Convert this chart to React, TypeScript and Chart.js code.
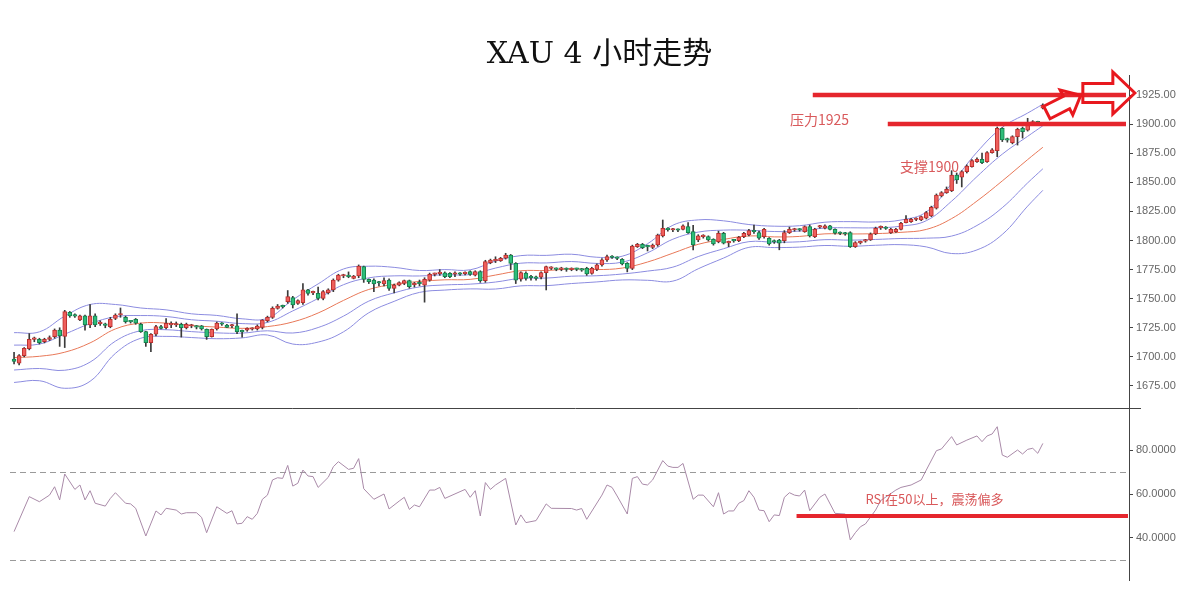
import React, { useEffect, useRef } from 'react';
import { Chart, registerables } from 'chart.js';

Chart.register(...registerables);

const TITLE = 'XAU 4 小时走势';

// candle index 0..203
const OPEN = [
  1698, 1694.5, 1701, 1707, 1715, 1715, 1713, 1715, 1717.4, 1723,
  1717.5, 1738.3, 1736, 1731.7, 1735.2, 1727.4, 1735.2, 1728.5, 1727.5, 1726,
  1733, 1736, 1734, 1730.3, 1732.3, 1728, 1721.7, 1712.3, 1719.4, 1726,
  1725, 1727.5, 1727.4, 1728, 1725, 1726.5, 1726, 1726.6, 1723.7, 1717.4,
  1724, 1728.5, 1727.4, 1726.5, 1726.6, 1721.7, 1723, 1723.7, 1724, 1725.4,
  1731, 1734, 1741.7, 1743.5, 1747.4, 1751, 1746, 1746.6, 1757.5, 1755,
  1754.6, 1750.3, 1755.2, 1757.5, 1766, 1769.5, 1769.5, 1767.5, 1769.5, 1777.5,
  1766.6, 1766, 1763.8, 1762.6, 1766, 1758.9, 1761.7, 1763.2, 1765.5, 1762,
  1763, 1761.7, 1766, 1770.9, 1771.5, 1772.3, 1771.8, 1771, 1771.2, 1771.5,
  1773.2, 1770.3, 1773.2, 1765.5, 1781, 1782.5, 1782.6, 1784.7, 1787.5, 1780.4,
  1766.7, 1772, 1768.4, 1768, 1768.4, 1772.4, 1776.1, 1775.5, 1775.2, 1775.3,
  1775, 1775.4, 1775, 1776.1, 1771.8, 1775.2, 1779, 1783.3, 1785.6, 1784.8,
  1783.8, 1780.4, 1776.1, 1794.7, 1796.7, 1794.8, 1794.1, 1796.1, 1803.9, 1809.6,
  1809, 1809, 1809.6, 1811.9, 1807.6, 1800.4, 1803.3, 1803.3, 1801, 1799,
  1806.2, 1798, 1800, 1799.9, 1803.3, 1804.7, 1807.8, 1806.7, 1803.3, 1801.9,
  1799, 1800.4, 1799.9, 1806.8, 1809, 1809.2, 1807.6, 1811.9, 1803.3, 1811.5,
  1810.5, 1812.5, 1809.6, 1806.2, 1805.8, 1806.8, 1794.7, 1798, 1799.5, 1800.5,
  1805.6, 1810.8, 1810.5, 1806.8, 1807.6, 1809.6, 1815.4, 1816.2, 1818, 1817.6,
  1819.1, 1821.1, 1827.7, 1838.3, 1841.1, 1842.8, 1856.3, 1854.3, 1859.2, 1863.4,
  1867.7, 1869.7, 1867.7, 1875.5, 1877.2, 1896.4, 1886.6, 1884.1, 1889.2, 1896.4,
  1894.9, 1900.7, 1901.4, 1913.6
];
const HIGH = [
  1704, 1702, 1708, 1720, 1717, 1716, 1716, 1718, 1724, 1725,
  1740, 1739, 1737, 1736, 1736, 1745, 1737, 1731, 1729, 1734,
  1737, 1742, 1735, 1731, 1733, 1729, 1722, 1720, 1727, 1727,
  1733, 1730, 1730, 1729, 1729, 1728, 1727, 1727, 1724, 1724,
  1730, 1729.5, 1728, 1728, 1737, 1723, 1725, 1725, 1727.5, 1732,
  1735, 1743, 1745, 1744.5, 1757, 1752, 1749, 1763, 1758, 1756.5,
  1760, 1757, 1758.5, 1767, 1771, 1771, 1773, 1770, 1779, 1778,
  1767, 1767, 1765, 1768, 1767, 1762.5, 1764.5, 1766, 1766, 1764,
  1766, 1768, 1772, 1772, 1775, 1773, 1772.5, 1773, 1772.5, 1773,
  1774, 1774, 1774, 1783, 1784, 1786, 1785.5, 1789, 1788, 1781,
  1773, 1773, 1770, 1769.5, 1773, 1778, 1777.5, 1776.5, 1777, 1776.5,
  1776.5, 1776.3, 1776, 1777, 1777, 1780, 1784.5, 1787.5, 1787, 1786,
  1784.5, 1781, 1796, 1797.5, 1797.5, 1796, 1797, 1805.5, 1817.6, 1811,
  1810.5, 1810, 1813.5, 1815.4, 1813, 1805, 1805, 1804, 1801.5, 1808,
  1807, 1799.5, 1801, 1803.5, 1807, 1809.5, 1813.3, 1808, 1810.5, 1802.5,
  1800.5, 1801, 1808.5, 1811.5, 1810.5, 1810.3, 1812.5, 1813.3, 1810.5, 1813,
  1813.5, 1813, 1810, 1807.5, 1807, 1807.5, 1799, 1799.5, 1801, 1806.5,
  1811.5, 1812.5, 1812, 1810.5, 1810.5, 1815.5, 1821.5, 1819, 1819.5, 1821,
  1825, 1829.5, 1840, 1842, 1846, 1860, 1858, 1860, 1865, 1869.5,
  1871, 1875, 1876.5, 1879, 1897.5, 1897, 1888, 1890, 1896.5, 1897.5,
  1905, 1903, 1902.5, 1917.5
];
const LOW = [
  1694, 1693, 1700, 1706, 1713, 1711, 1712, 1714, 1716, 1709,
  1708, 1734, 1734, 1731, 1723, 1725, 1726, 1727, 1725, 1725,
  1732, 1734, 1729, 1729, 1728, 1721, 1709, 1704.5, 1718, 1724,
  1724, 1725, 1726, 1717, 1724, 1725, 1724, 1723, 1715, 1717,
  1723, 1727, 1725, 1725, 1720, 1717, 1722, 1723, 1723, 1724,
  1730, 1733, 1741, 1742, 1746, 1742, 1745, 1745, 1753, 1753.5,
  1749, 1749, 1754, 1756, 1765, 1768, 1768, 1767, 1768, 1764,
  1763, 1756, 1761, 1761, 1757, 1755, 1761, 1762, 1759, 1760,
  1761, 1747, 1765, 1769.5, 1770, 1768, 1768, 1769, 1770, 1770.5,
  1770, 1769.5, 1764, 1764, 1780, 1781, 1782, 1784, 1775, 1763,
  1765, 1766, 1766, 1766, 1767, 1757.5, 1775, 1774, 1774, 1773.5,
  1774, 1774, 1773.5, 1770, 1771, 1774, 1778, 1782, 1784.5, 1783.5,
  1779, 1773, 1775, 1794, 1793, 1791, 1793, 1795, 1803, 1808,
  1807.5, 1807.5, 1809, 1806, 1792, 1799, 1802, 1799.5, 1796, 1798,
  1797, 1794.7, 1798.5, 1799, 1802.5, 1804, 1806, 1801, 1802, 1796,
  1797.5, 1792, 1798, 1806, 1808, 1808, 1807, 1803, 1802.5, 1810.5,
  1810, 1809, 1805.5, 1805, 1804.5, 1794, 1794, 1797, 1798.5, 1800,
  1805, 1809.5, 1809.5, 1806, 1807, 1809, 1815, 1815.5, 1817, 1817,
  1818.5, 1820.5, 1827, 1837.5, 1840.5, 1842, 1849, 1846, 1858, 1863,
  1867, 1866, 1867, 1875, 1872, 1885, 1884.5, 1883, 1882, 1888,
  1894, 1899.5, 1900, 1913
];
const CLOSE = [
  1696, 1701, 1707.4, 1715, 1715.5, 1712.3, 1715, 1716.5, 1723, 1718,
  1739, 1735.2, 1735, 1735.2, 1727.4, 1735.2, 1727.4, 1729, 1727, 1732.3,
  1736, 1736.5, 1730.3, 1730, 1728.9, 1721.7, 1712.3, 1719.4, 1726, 1724.5,
  1728.9, 1727.6, 1727.8, 1725, 1728, 1726.8, 1725.6, 1724, 1717.4, 1723.7,
  1729, 1728, 1725.4, 1726.6, 1721.7, 1721.5, 1724.5, 1724, 1726.5, 1731.7,
  1734, 1741.7, 1743.7, 1743, 1751.7, 1744.6, 1748.3, 1757.5, 1754.6, 1755.2,
  1750.3, 1756, 1757.5, 1766, 1770.3, 1769.8, 1769, 1769.5, 1778, 1766.6,
  1764.6, 1762.6, 1763.5, 1765.5, 1758.9, 1761.7, 1763.8, 1765.5, 1760.3, 1763,
  1762.8, 1766.6, 1770.9, 1771, 1771.8, 1768.9, 1768.9, 1771.3, 1771, 1771.8,
  1770.9, 1773.2, 1765.5, 1781.8, 1783.2, 1782.8, 1784.7, 1787.5, 1780.4, 1766,
  1772.4, 1767.5, 1768, 1767.5, 1772.4, 1777.5, 1776.5, 1775.2, 1775.5, 1775.1,
  1775.4, 1775.2, 1774.6, 1771.2, 1776.1, 1779, 1783.3, 1786.1, 1785.4, 1784.6,
  1779.8, 1776.1, 1795.3, 1796.7, 1793.9, 1794.5, 1796.1, 1804.7, 1810.5, 1809.4,
  1809.2, 1808.8, 1812.5, 1806.7, 1796.1, 1803.9, 1803.5, 1800.4, 1797, 1806.2,
  1797.6, 1798.3, 1799.7, 1802.7, 1806.2, 1808.5, 1807.5, 1801.9, 1809.6, 1797,
  1798.7, 1797.6, 1806.8, 1809.6, 1809.3, 1809, 1811.9, 1803.9, 1809.6, 1811.9,
  1812.5, 1809.6, 1806.2, 1806, 1805.6, 1794.7, 1798.2, 1798.4, 1800, 1805.6,
  1810.5, 1811, 1810.3, 1809.6, 1809.6, 1814.8, 1818.2, 1818.2, 1818.3, 1820.5,
  1824, 1828.5, 1839.1, 1841.1, 1844, 1856.3, 1852, 1859.2, 1864, 1868.6,
  1869.7, 1866.9, 1875.5, 1877.8, 1896.4, 1886.4, 1886.3, 1889.2, 1895.5, 1893.5,
  1900.7, 1902.1, 1901.2, 1916.4
];

// Bollinger bands read at these candle indices
const BAND_IDX = [0, 5, 10, 15, 20, 25, 30, 35, 40, 45, 50, 55, 60, 65, 70, 75, 80, 85, 90, 95,
  100, 105, 110, 115, 120, 125, 130, 135, 140, 145, 150, 155, 160, 165, 170, 175, 180, 185, 190, 195, 200, 203];
const BB_UP2 = [1720.8, 1721.5, 1735.0, 1745.0, 1745.0, 1742.0, 1740.4, 1737.0, 1735.6, 1732.7, 1733.2, 1749.0, 1762.7, 1775.5, 1777.9, 1776.9, 1774.2, 1775.0, 1774.8, 1782.3,
  1787.0, 1787.2, 1788.2, 1785.6, 1786.5, 1797.2, 1813.1, 1817.7, 1816.9, 1813.7, 1812.3, 1812.7, 1815.7, 1816.2, 1815.9, 1817.6, 1824.5, 1848.8, 1875.9, 1897.2, 1909.5, 1917.1];
const BB_UP1 = [1710.1, 1711.0, 1719.5, 1728.5, 1734.5, 1735.5, 1734.7, 1731.9, 1730.6, 1728.6, 1729.6, 1739.5, 1750.2, 1762.0, 1767.9, 1769.6, 1769.5, 1770.6, 1770.7, 1776.3,
  1780.5, 1780.7, 1781.9, 1780.3, 1781.4, 1789.4, 1801.1, 1807.2, 1808.9, 1808.8, 1807.7, 1808.1, 1810.7, 1810.9, 1810.9, 1812.3, 1817.0, 1833.8, 1854.9, 1874.2, 1889.5, 1898.6];
const BB_MID = [1699.4, 1700.5, 1704.0, 1712.0, 1724.0, 1729.0, 1729.0, 1726.8, 1725.6, 1724.5, 1726.0, 1730.0, 1737.7, 1748.5, 1757.9, 1762.3, 1764.8, 1766.2, 1766.6, 1770.3,
  1774.0, 1774.2, 1775.6, 1775.0, 1776.3, 1781.5, 1789.1, 1796.7, 1800.9, 1803.9, 1803.1, 1803.5, 1805.7, 1805.6, 1805.9, 1807.0, 1809.5, 1818.8, 1833.9, 1851.2, 1869.5, 1880.1];
const BB_LO1 = [1688.7, 1690.0, 1688.5, 1695.5, 1713.5, 1722.5, 1723.3, 1721.7, 1720.6, 1720.4, 1722.4, 1720.5, 1725.2, 1735.0, 1747.9, 1755.0, 1760.1, 1761.8, 1762.5, 1764.3,
  1767.5, 1767.7, 1769.3, 1769.7, 1771.2, 1773.7, 1777.1, 1786.2, 1792.9, 1799.0, 1798.5, 1798.9, 1800.7, 1800.3, 1800.9, 1801.7, 1802.0, 1803.8, 1812.9, 1828.2, 1849.5, 1861.6];
const BB_LO2 = [1678.0, 1679.5, 1673.0, 1679.0, 1703.0, 1716.0, 1717.6, 1716.6, 1715.6, 1716.3, 1718.8, 1711.0, 1712.7, 1721.5, 1737.9, 1747.7, 1755.4, 1757.4, 1758.4, 1758.3,
  1761.0, 1761.2, 1763.0, 1764.4, 1766.1, 1765.8, 1765.1, 1775.7, 1784.9, 1794.1, 1793.9, 1794.3, 1795.7, 1795.0, 1795.9, 1796.4, 1794.5, 1788.8, 1791.9, 1805.2, 1829.5, 1843.1];

// RSI read at these candle indices
const RSI_IDX = [0, 3, 5, 7, 8, 9, 10, 12, 13, 14, 15, 16, 18, 19, 20, 22, 23, 24, 26, 28,
  29, 30, 32, 33, 34, 36, 37, 38, 40, 42, 43, 44, 45, 46, 47, 48, 49, 50, 51, 52,
  53, 54, 55, 56, 57, 58, 59, 60, 62, 63, 64, 66, 67, 68, 69, 71, 73, 74, 76, 77,
  78, 79, 80, 82, 83, 84, 85, 89, 90, 91, 92, 93, 94, 95, 97, 99, 100, 101, 103, 105,
  106, 110, 111, 112, 113, 116, 117, 118, 119, 121, 122, 123, 124, 125, 126, 128, 129, 130, 131, 132,
  134, 135, 136, 138, 139, 140, 141, 142, 143, 144, 145, 146, 147, 148, 149, 150, 151, 152, 153, 154,
  155, 156, 157, 159, 160, 162, 164, 165, 166, 167, 168, 170, 171, 174, 175, 177, 179, 180, 182, 183,
  185, 186, 188, 190, 191, 192, 193, 194, 195, 196, 198, 199, 200, 201, 202, 203];
const RSI_VAL = [42.9, 58.8, 56.5, 59.5, 63.3, 57.3, 69.1, 62.1, 64.1, 57.3, 61.5, 55.8, 54.5, 58.0, 60.6, 55.8, 55.5, 53.5, 40.9, 52.3,
  50.5, 53.5, 52.7, 50.9, 51.5, 51.5, 49.4, 42.4, 54.2, 51.2, 52.4, 46.4, 46.7, 49.7, 48.5, 51.2, 57.6, 59.5, 66.4, 67.4,
  67.1, 73.0, 63.6, 64.9, 70.9, 68.2, 67.9, 63.0, 67.6, 72.4, 74.7, 71.2, 71.7, 76.1, 62.4, 57.6, 60.0, 53.2, 56.8, 58.5,
  53.0, 55.0, 54.2, 61.8, 61.8, 63.0, 58.0, 62.1, 58.5, 61.5, 50.0, 65.2, 62.1, 64.1, 67.1, 45.9, 50.5, 47.0, 47.9, 55.5,
  53.5, 53.4, 52.7, 53.4, 48.5, 59.5, 64.1, 63.0, 59.1, 50.9, 67.1, 67.9, 64.5, 64.1, 66.4, 75.2, 72.7, 72.1, 72.1, 73.9,
  57.6, 59.5, 59.5, 54.2, 60.6, 50.9, 52.3, 52.3, 55.8, 57.0, 61.5, 58.5, 52.7, 52.4, 47.4, 50.5, 50.2, 58.5, 60.6, 59.5,
  59.1, 61.8, 52.4, 58.5, 60.0, 51.2, 50.9, 39.1, 42.4, 45.1, 46.4, 52.7, 57.0, 61.8, 63.0, 64.1, 66.4, 70.9, 79.7, 80.5,
  86.1, 82.3, 84.5, 86.4, 83.8, 86.4, 87.3, 90.6, 77.7, 76.7, 80.0, 78.2, 80.3, 80.8, 78.5, 83.0];

const PRICE_TICKS = [1675, 1700, 1725, 1750, 1775, 1800, 1825, 1850, 1875, 1900, 1925];
const RSI_TICKS = [40, 60, 80];
const RSI_GUIDES = [70, 30];

const RESIST_LEVEL = 1925;
const RESIST_FROM = 157.6;
const SUPPORT_LEVEL = 1900;
const SUPPORT_FROM = 172.4;
const RSI_LINE_LEVEL = 50;
const RSI_LINE_FROM = 154.4;
const RESIST_TEXT = '压力1925';
const SUPPORT_TEXT = '支撑1900';
const RSI_TEXT = 'RSI在50以上，震荡偏多';

const X_MIN = -0.8;
const X_MAX = 220;
const AXIS_W = 60;

const UP_FILL = '#ef5f5c';
const UP_EDGE = '#b9302e';
const DN_FILL = '#2dbd7a';
const DN_EDGE = '#15804d';
const BAND_COLOR = '#8c8ce0';
const MID_COLOR = '#e87858';
const RSI_COLOR = '#a98aa8';
const MARK_RED = '#e5262d';
const NOTE_RED = '#d9595b';
const TICK_FONT = { family: "'Liberation Sans', Arial, sans-serif", size: 11 };

function drawArrow(ctx: CanvasRenderingContext2D, x: number, y: number, ang: number, len: number, headLen: number, bh: number, hh: number) {
  ctx.save();
  ctx.translate(x, y);
  ctx.rotate(ang);
  const xb = len - headLen;
  ctx.beginPath();
  ctx.moveTo(0, -bh);
  ctx.lineTo(xb, -bh);
  ctx.lineTo(xb, -hh);
  ctx.lineTo(len, 0);
  ctx.lineTo(xb, hh);
  ctx.lineTo(xb, bh);
  ctx.lineTo(0, bh);
  ctx.closePath();
  ctx.strokeStyle = '#e8181e';
  ctx.lineWidth = 3;
  ctx.lineJoin = 'miter';
  ctx.stroke();
  ctx.restore();
}

const mainDecor = {
  id: 'mainDecor',
  afterDatasetsDraw(chart: any) {
    const { ctx, chartArea, scales } = chart;
    const xs = scales.x, ys = scales.y;
    ctx.save();
    // separator line
    ctx.strokeStyle = '#444';
    ctx.lineWidth = 1;
    ctx.beginPath();
    ctx.moveTo(chartArea.left, Math.round(chartArea.bottom) - 0.5);
    ctx.lineTo(chartArea.right + 12, Math.round(chartArea.bottom) - 0.5);
    ctx.stroke();
    // resistance / support lines
    ctx.strokeStyle = MARK_RED;
    ctx.lineWidth = 4.5;
    const yR = ys.getPixelForValue(RESIST_LEVEL);
    ctx.beginPath();
    ctx.moveTo(xs.getPixelForValue(RESIST_FROM), yR);
    ctx.lineTo(chartArea.right - 3, yR);
    ctx.stroke();
    const yS = ys.getPixelForValue(SUPPORT_LEVEL);
    ctx.beginPath();
    ctx.moveTo(xs.getPixelForValue(SUPPORT_FROM), yS);
    ctx.lineTo(chartArea.right - 3, yS);
    ctx.stroke();
    // notes
    ctx.fillStyle = NOTE_RED;
    ctx.font = "14px 'Noto Sans CJK SC', sans-serif";
    ctx.textBaseline = 'middle';
    ctx.textAlign = 'left';
    ctx.fillText(RESIST_TEXT, xs.getPixelForValue(153.1), ys.getPixelForValue(1904));
    ctx.fillText(SUPPORT_TEXT, xs.getPixelForValue(174.8), ys.getPixelForValue(1863));
    // arrows
    const xLast = xs.getPixelForValue(OPEN.length - 1);
    drawArrow(ctx, xLast + 4, ys.getPixelForValue(1910), -0.47, 38, 16, 7, 14);
    drawArrow(ctx, xLast + 40, yR - 2, 0, 52, 22, 9.5, 21);
    ctx.restore();
  },
};

const rsiDecor = {
  id: 'rsiDecor',
  beforeDatasetsDraw(chart: any) {
    const { ctx, chartArea, scales } = chart;
    ctx.save();
    ctx.strokeStyle = '#9a9a9a';
    ctx.lineWidth = 1;
    ctx.setLineDash([6, 4]);
    RSI_GUIDES.forEach((v) => {
      const y = Math.round(scales.y.getPixelForValue(v)) + 0.5;
      ctx.beginPath();
      ctx.moveTo(chartArea.left, y);
      ctx.lineTo(chartArea.right, y);
      ctx.stroke();
    });
    ctx.restore();
  },
  afterDatasetsDraw(chart: any) {
    const { ctx, chartArea, scales } = chart;
    const xs = scales.x, ys = scales.y;
    ctx.save();
    const y = ys.getPixelForValue(RSI_LINE_LEVEL);
    ctx.strokeStyle = MARK_RED;
    ctx.lineWidth = 4;
    ctx.beginPath();
    ctx.moveTo(xs.getPixelForValue(RSI_LINE_FROM), y);
    ctx.lineTo(chartArea.right - 1, y);
    ctx.stroke();
    ctx.fillStyle = NOTE_RED;
    ctx.font = "13px 'Noto Sans CJK SC', sans-serif";
    ctx.textBaseline = 'middle';
    ctx.textAlign = 'left';
    ctx.fillText(RSI_TEXT, xs.getPixelForValue(168), ys.getPixelForValue(57.5));
    ctx.restore();
  },
};

function bandSet(vals: number[], color: string) {
  return {
    type: 'line' as const,
    data: BAND_IDX.map((x, k) => ({ x, y: vals[k] })),
    borderColor: color,
    borderWidth: 1,
    pointRadius: 0,
    tension: 0.4,
    fill: false,
  };
}

function rightAxis(min: number, max: number, ticks: number[], digits: number) {
  return {
    position: 'right' as const,
    min,
    max,
    afterBuildTicks: (scale: any) => {
      scale.ticks = ticks.map((v) => ({ value: v }));
    },
    afterFit: (scale: any) => {
      scale.width = AXIS_W;
      scale.paddingTop = 0;
      scale.paddingBottom = 0;
    },
    ticks: {
      color: '#666',
      font: TICK_FONT,
      padding: 3,
      callback: (v: any) => Number(v).toFixed(digits),
    },
    grid: { drawOnChartArea: false, drawTicks: true, tickLength: 4, color: '#444' },
    border: { display: true, color: '#444', width: 1 },
  };
}

export default function App() {
  const mainRef = useRef<HTMLCanvasElement>(null);
  const rsiRef = useRef<HTMLCanvasElement>(null);

  useEffect(() => {
    const fills = CLOSE.map((c, i) => (c >= OPEN[i] ? UP_FILL : DN_FILL));
    const edges = CLOSE.map((c, i) => (c >= OPEN[i] ? UP_EDGE : DN_EDGE));
    const main = new Chart(mainRef.current!, {
      type: 'bar',
      data: {
        datasets: [
          {
            type: 'bar',
            data: OPEN.map((o, i) => ({ x: i, y: [o, CLOSE[i]] })) as any,
            backgroundColor: fills,
            borderColor: edges,
            borderWidth: 1,
            borderSkipped: false,
            barThickness: 4,
            grouped: false,
            minBarLength: 1.5,
          } as any,
          {
            type: 'bar',
            data: LOW.map((l, i) => ({ x: i, y: [l, HIGH[i]] })) as any,
            backgroundColor: '#3a3a3a',
            barThickness: 1,
            grouped: false,
          } as any,
          bandSet(BB_UP2, BAND_COLOR),
          bandSet(BB_UP1, BAND_COLOR),
          bandSet(BB_MID, MID_COLOR),
          bandSet(BB_LO1, BAND_COLOR),
          bandSet(BB_LO2, BAND_COLOR),
        ],
      },
      options: {
        responsive: false,
        animation: false,
        layout: { padding: { left: 10, right: 0, top: 0, bottom: 1 } },
        plugins: {
          legend: { display: false },
          tooltip: { enabled: false },
          title: {
            display: true,
            text: TITLE,
            color: '#111',
            font: { size: 30, family: "'DejaVu Serif', 'Noto Sans CJK SC', serif", weight: 'normal', lineHeight: 1.2 },
            padding: { top: 37, bottom: 2 },
          },
        },
        scales: {
          x: { type: 'linear', min: X_MIN, max: X_MAX, display: false, offset: false },
          y: rightAxis(1655.2, 1942.2, PRICE_TICKS, 2) as any,
        },
      },
      plugins: [mainDecor],
    });

    const rsi = new Chart(rsiRef.current!, {
      type: 'line',
      data: {
        datasets: [
          {
            data: RSI_IDX.map((x, k) => ({ x, y: RSI_VAL[k] })),
            borderColor: RSI_COLOR,
            borderWidth: 1,
            pointRadius: 0,
            tension: 0,
          },
        ],
      },
      options: {
        responsive: false,
        animation: false,
        layout: { padding: { left: 10, right: 0, top: 0, bottom: 14 } },
        plugins: { legend: { display: false }, tooltip: { enabled: false } },
        scales: {
          x: { type: 'linear', min: X_MIN, max: X_MAX, display: false },
          y: rightAxis(20.9, 98.2, RSI_TICKS, 4) as any,
        },
      },
      plugins: [rsiDecor],
    });

    return () => {
      main.destroy();
      rsi.destroy();
    };
  }, []);

  return (
    <div style={{ position: 'absolute', left: 0, top: 0, width: 1189, height: 594, background: '#fff', overflow: 'hidden' }}>
      <canvas ref={mainRef} width={1189} height={410} style={{ position: 'absolute', left: 0, top: 0 }} />
      <canvas ref={rsiRef} width={1189} height={184} style={{ position: 'absolute', left: 0, top: 410 }} />
    </div>
  );
}
